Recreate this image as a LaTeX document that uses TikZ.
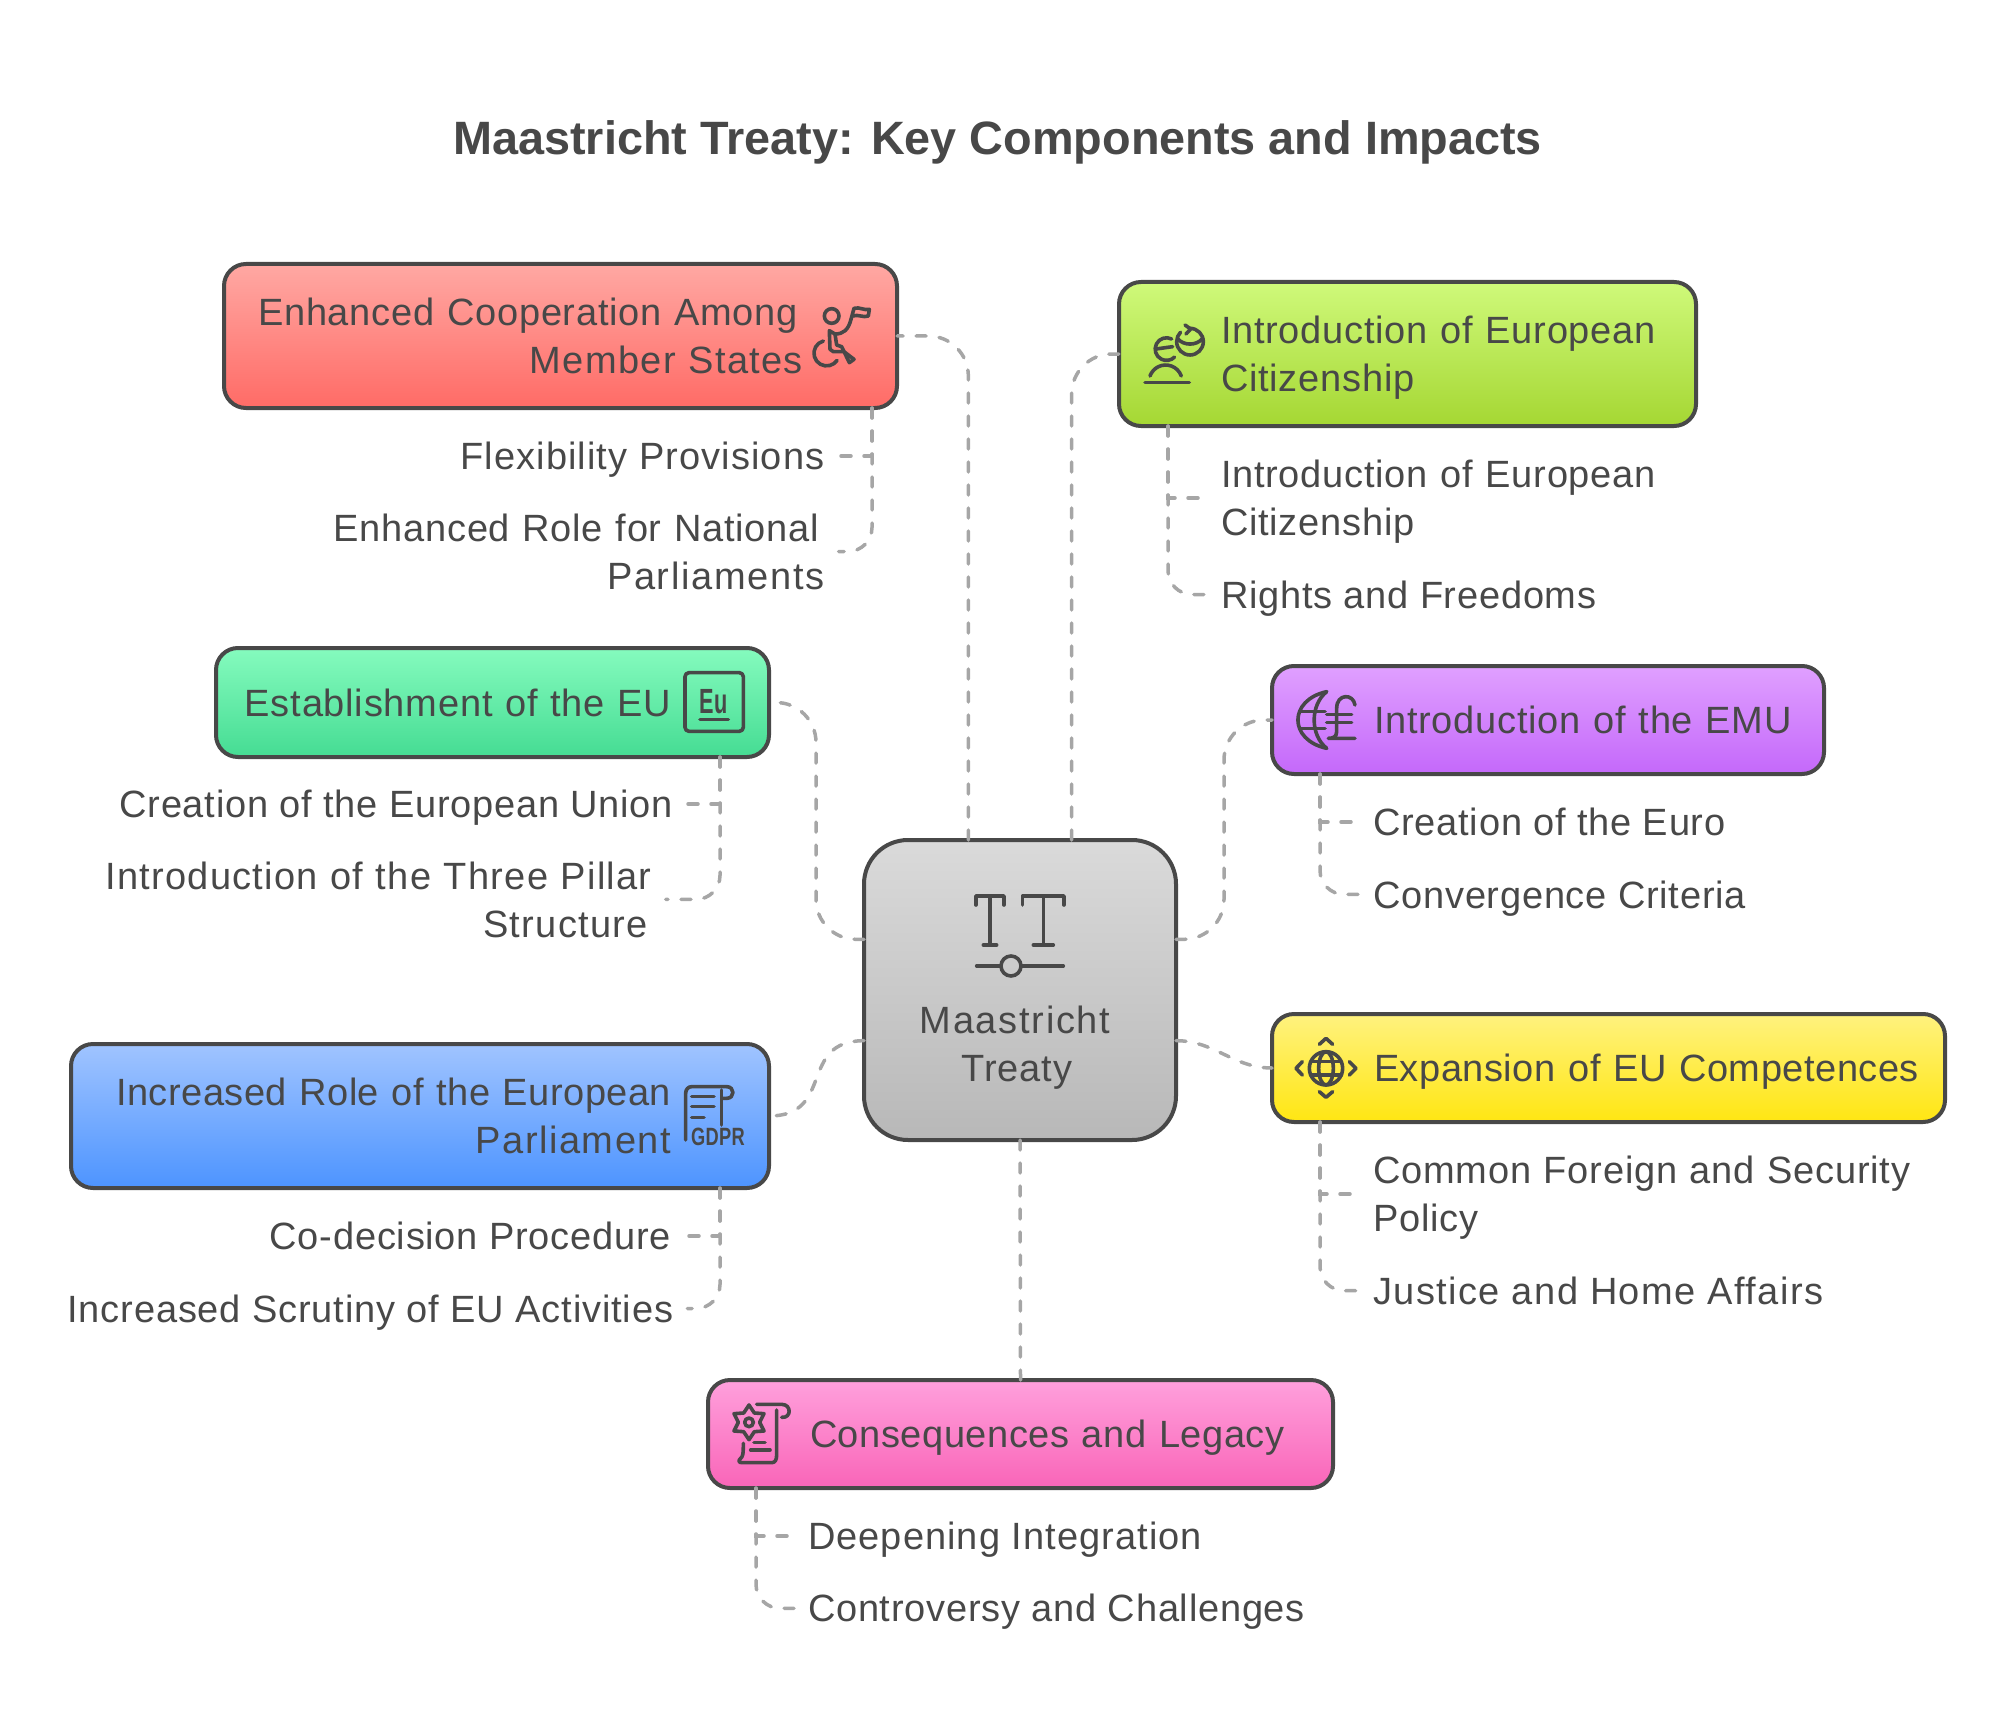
\documentclass[tikz,border=0pt]{standalone}
\usepackage{fontspec}
\setmainfont[LetterSpace=2]{Liberation Sans}
\definecolor{ink}{HTML}{484848}
\definecolor{dashgray}{HTML}{A6A6A6}
\definecolor{mtTop}{HTML}{DADADA}
\definecolor{mtBot}{HTML}{B8B8B8}
\definecolor{coopTop}{HTML}{FFA8A3}
\definecolor{coopBot}{HTML}{FF6B66}
\definecolor{citTop}{HTML}{CFF97A}
\definecolor{citBot}{HTML}{A5D733}
\definecolor{estabTop}{HTML}{85FBBE}
\definecolor{estabBot}{HTML}{45DC93}
\definecolor{emuTop}{HTML}{E0A0FF}
\definecolor{emuBot}{HTML}{C468FA}
\definecolor{expTop}{HTML}{FFF27F}
\definecolor{expBot}{HTML}{FFE612}
\definecolor{roleTop}{HTML}{A0C4FF}
\definecolor{roleBot}{HTML}{4D94FF}
\definecolor{consTop}{HTML}{FFA0DC}
\definecolor{consBot}{HTML}{F965B8}
\newcommand{\evenline}{\rule[-4.5pt]{0pt}{22.6pt}}
\newcommand{\spaced}[2]{{\addfontfeature{LetterSpace=#1}#2}}
\tikzset{
    bodytext/.style={text=ink,inner ysep=0pt,outer sep=0pt,font=\fontsize{19}{24}\selectfont,execute at begin node=\evenline,execute at end node=\evenline},
    box/.style={bodytext,draw=ink,line width=2pt,rounded corners=11pt,inner xsep=10pt},
    rightbox/.style={box,align=right},
    leftbox/.style={box,align=left},
    rightkid/.style={bodytext,anchor=east,align=right,inner xsep=7pt},
    leftkid/.style={bodytext,anchor=west,align=left,inner xsep=7pt},
    link/.style={draw=dashgray,line width=1.75pt,line cap=round,dash pattern=on 5pt off 6.5pt},
    icon/.style={draw=ink,line width=1.8pt,line cap=round,line join=round},
    icontext/.style={text=ink,inner sep=0pt,font=\bfseries\fontsize{12.5}{12.5}\selectfont}
}
\begin{document}
\begin{tikzpicture}[x=0.5pt,y=-0.5pt]
\useasboundingbox (0,0) rectangle (1992,1728);

\node (title) at (997.6,142) [text=ink,font=\bfseries\fontsize{23.4}{28}\selectfont\addfontfeature{LetterSpace=0}] {Maastricht Treaty: Key Components and Impacts};

\coordinate (bendl) at (816,1000);
\coordinate (bendr) at (1224,1000);
\coordinate (buscoop) at (872,0);
\coordinate (buscit) at (1168,0);
\coordinate (busestab) at (720,0);
\coordinate (busemu) at (1320,0);
\coordinate (busexp) at (1320,0);
\coordinate (busrole) at (720,0);
\coordinate (buscons) at (756,0);

% main boxes
\node (mt) at (1020,990) [box,align=center,minimum width=156pt,minimum height=150pt,rounded corners=22pt,top color=mtTop,bottom color=mtBot] {\rule{0pt}{72pt}\spaced{4.4}{Maastricht}\kern5pt\\Treaty\kern3pt};
\node (coop) at (560.5,336) [rightbox,text width=316.5pt,minimum height=72pt,top color=coopTop,bottom color=coopBot] {Enhanced Cooperation Among\kern39.5pt\\\spaced{3.5}{Member States}\kern37pt};
\node (cit) at (1407.5,354) [leftbox,text width=268.5pt,minimum height=72pt,top color=citTop,bottom color=citBot] {\hspace*{41pt}Introduction of European\\\hspace*{41pt}Citizenship};
\node (estab) at (492.5,702.5) [rightbox,text width=256.5pt,minimum height=54.5pt,top color=estabTop,bottom color=estabBot] {Establishment of the EU\kern39pt};
\node (emu) at (1548,720) [leftbox,text width=256pt,minimum height=54pt,top color=emuTop,bottom color=emuBot] {\hspace*{41pt}Introduction of the EMU};
\node (exp) at (1608.5,1068) [leftbox,text width=316.5pt,minimum height=54pt,top color=expTop,bottom color=expBot] {\hspace*{41pt}\spaced{1.4}{Expansion of EU Competences}};
\node (role) at (420,1116) [rightbox,text width=329pt,minimum height=72pt,top color=roleTop,bottom color=roleBot] {\spaced{1.2}{Increased Role of the European}\kern39pt\\\spaced{4}{Parliament}\kern39pt};
\node (cons) at (1020.5,1434) [leftbox,text width=292.5pt,minimum height=54pt,top color=consTop,bottom color=consBot] {\hspace*{41pt}\spaced{1.4}{Consequences and Legacy}};

% labels under the boxes
\begin{scope}[every node/.style={rightkid}]
    \node (flex) at (838.5,456) {\spaced{2.9}{Flexibility Provisions}};
    \node (natl) at (838.5,551.5) [text width=248pt] {Enhanced Role for National\kern2.7pt\\\spaced{4.4}{Parliaments}};
    \node (union) at (687,804) {Creation of the European Union};
    \node (pillar) at (665.7,899.4) [text width=276pt] {\spaced{3.3}{Introduction of the Three Pillar}\\\spaced{3.5}{Structure}\kern1.8pt};
    \node (codec) at (684.8,1236) {Co-decision Procedure};
    \node (scrut) at (687.3,1308.5) {\spaced{2.2}{Increased Scrutiny of EU Activities}};
\end{scope}
\begin{scope}[every node/.style={leftkid}]
    \node (citizen) at (1207,498) [text width=222pt] {Introduction of European\\Citizenship};
    \node (rights) at (1207,594.5) {Rights and Freedoms};
    \node (euro) at (1359.3,822) {Creation of the Euro};
    \node (conv) at (1359.3,894.4) {Convergence Criteria};
    \node (cfsp) at (1359.3,1194) [text width=272pt] {Common Foreign and Security\\Policy};
    \node (jha) at (1359.3,1290.7) {\spaced{3.7}{Justice and Home Affairs}};
    \node (deep) at (794,1536) {\spaced{2.8}{Deepening Integration}};
    \node (contr) at (794,1608.3) {Controversy and Challenges};
\end{scope}

% links from the centre
\draw[link,rounded corners=20pt] (mt.109) |- (coop.east);
\draw[link,rounded corners=20pt] (mt.71) |- (cit.west);
\draw[link,rounded corners=20pt] (mt.162) -- (bendl |- mt.162) -- (estab.east -| bendl) -- (estab.east);
\draw[link,rounded corners=20pt] (mt.18) -- (mt.18 -| bendr) -- (bendr |- emu.west) -- (emu.west);
\draw[link] (mt.198) to [out = 180, in = 0, looseness=1.4] (role.east);
\draw[link] (mt.-18) to [out = 0, in = 180, looseness=1] (exp.west);
\draw[link] (mt.south) -- (cons.north);

% links to the labels
\draw[link] (buscoop |- coop.south) |- (flex.east);
\draw[link,rounded corners=12pt] (buscoop |- coop.south) |- (natl.east);
\draw[link] (buscit |- cit.south) |- (citizen.west);
\draw[link,rounded corners=12pt] (buscit |- cit.south) |- (rights.west);
\draw[link] (busestab |- estab.south) |- (union.east);
\draw[link,rounded corners=12pt] (busestab |- estab.south) |- (pillar.east);
\draw[link] (busemu |- emu.south) |- (euro.west);
\draw[link,rounded corners=12pt] (busemu |- emu.south) |- (conv.west);
\draw[link] (busexp |- exp.south) |- (cfsp.west);
\draw[link,rounded corners=12pt] (busexp |- exp.south) |- (jha.west);
\draw[link] (busrole |- role.south) |- (codec.east);
\draw[link,rounded corners=12pt] (busrole |- role.south) |- (scrut.east);
\draw[link] (buscons |- cons.south) |- (deep.west);
\draw[link,rounded corners=12pt] (buscons |- cons.south) |- (contr.west);

% icons
\begin{scope}[shift={(850,820)},scale=0.3333,every path/.style={icon}]
    \draw (378,255) -- (378,228) -- (462,228) -- (462,255);
    \draw (420,228) -- (420,375);
    \draw (400,375) -- (440,375);
    \draw (518,255) -- (518,228) -- (642,228) -- (642,255);
    \draw (580,228) -- (580,375);
    \draw (550,375) -- (610,375);
    \draw (380,438) -- (452,438);
    \draw (483,438) circle (30);
    \draw (515,438) -- (640,438);
\end{scope}
\begin{scope}[shift={(790,290)},scale=0.3333,every path/.style={icon}]
    \draw (125,78) circle (22);
    \draw (183,88) .. controls (175,120) and (160,132) .. (135,132) -- (118,122) -- (120,178) -- (130,185) -- (162,185) -- (192,208) -- (178,218) -- (155,170) -- (140,165) -- (135,132);
    \draw (100,153) arc (255:35:38);
    \draw (183,88) -- (192,55) .. controls (210,50) and (220,62) .. (238,58) -- (235,78) .. controls (220,84) and (205,72) .. (188,78);
\end{scope}
\begin{scope}[shift={(1100,270)},scale=0.3333,every path/.style={icon}]
    \draw (135,337) -- (268,337);
    \draw (150,318) arc (200:340:50);
    \draw (215,207) arc (297:45:34);
    \draw (168,237) -- (218,230);
    \draw (270,175) arc (-90:225:40);
    \draw (255,165) -- (272,177) -- (258,192);
    \draw (232,205) .. controls (250,228) and (290,228) .. (308,205);
\end{scope}
\begin{scope}[shift={(660,630)},scale=0.3333,every path/.style={icon}]
    \draw[rounded corners=2pt] (75,128) rectangle (250,304);
    \draw (120,268) -- (205,268);
    \node (eu) at (162,215) [icontext,font=\bfseries\fontsize{17.5}{17.5}\selectfont] {\scalebox{.62}[1]{Eu}};
\end{scope}
\begin{scope}[shift={(1270,680)},scale=0.3333,every path/.style={icon}]
    \draw (170,35) .. controls (55,60) and (55,180) .. (170,205);
    \draw (170,35) .. controls (120,75) and (120,165) .. (170,205);
    \draw (90,95) -- (165,95);
    \draw (90,145) -- (165,145);
    \draw (255,75) .. controls (250,40) and (200,40) .. (200,85) -- (200,155) .. controls (200,170) and (190,175) .. (175,175) -- (255,175);
    \draw (170,103) -- (245,103);
    \draw (170,128) -- (245,128);
\end{scope}
\begin{scope}[shift={(1270,1020)},scale=0.3333,every path/.style={icon}]
    \draw (168,145) circle (50);
    \draw (168,145) ellipse (22 and 50);
    \draw (122,125) -- (214,125);
    \draw (122,165) -- (214,165);
    \draw (148,73) -- (168,55) -- (188,73);
    \draw (148,215) -- (168,232) -- (188,215);
    \draw (97,125) -- (78,145) -- (97,165);
    \draw (238,125) -- (258,145) -- (238,165);
\end{scope}
\begin{scope}[shift={(650,1060)},scale=0.3333,every path/.style={icon}]
    \draw (107,240) -- (107,100) .. controls (107,88) and (115,80) .. (125,80) -- (230,80) .. controls (255,80) and (255,115) .. (230,115) -- (218,115);
    \draw (215,90) -- (215,195);
    \draw (125,110) -- (192,110);
    \draw (125,140) -- (192,140);
    \draw (125,172) -- (162,172);
    \node (gdpr) at (204,232) [icontext] {\scalebox{.73}[1]{GDPR}};
\end{scope}
\begin{scope}[shift={(710,1380)},scale=0.3333,every path/.style={icon}]
    \draw (117,75) -- (133,99) -- (162,101) -- (149,127) -- (162,153) -- (133,155) -- (117,179) -- (101,155) -- (72,153) -- (85,127) -- (72,101) -- (101,99) -- cycle;
    \draw (117,127) circle (13);
    \draw (140,73) -- (215,73) .. controls (245,73) and (245,115) .. (215,112);
    \draw (200,90) -- (200,225) .. controls (200,240) and (195,248) .. (185,248) -- (95,248) .. controls (85,248) and (85,240) .. (92,235) .. controls (98,230) and (100,225) .. (100,190);
    \draw (132,188) -- (165,188);
    \draw (122,210) -- (180,210);
\end{scope}
\end{tikzpicture}
\end{document}
